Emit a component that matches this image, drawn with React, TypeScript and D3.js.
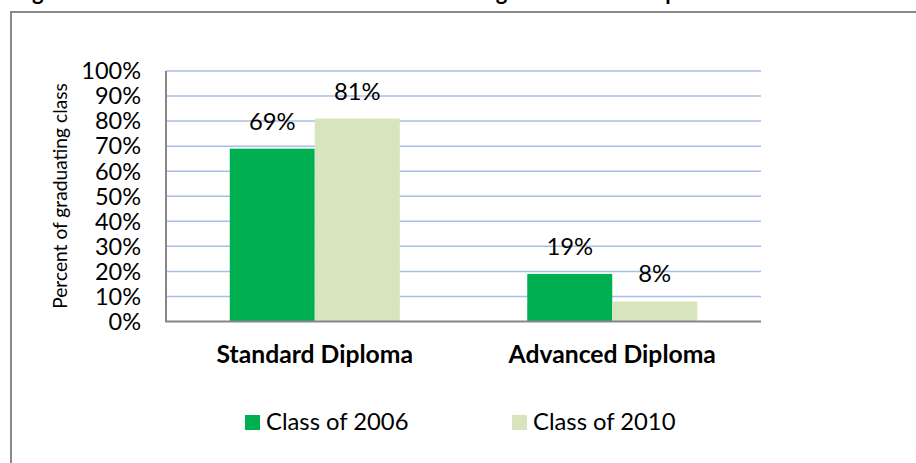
import React from "react";
import * as d3 from "d3";

const categories = ["Standard Diploma", "Advanced Diploma"];
const seriesNames = ["Class of 2006", "Class of 2010"];
const values2006 = [0.69, 0.19];
const values2010 = [0.81, 0.08];
const seriesColors = ["#00b050", "#d7e4bd"];
const tickValues = [0, 0.1, 0.2, 0.3, 0.4, 0.5, 0.6, 0.7, 0.8, 0.9, 1.0];
const titleText = "Figure 12. Class of 2006 and Class of 2010 Earning the Standard Diploma";
const yAxisTitle = "Percent of graduating class";

const W = 916;
const H = 463;
const FONT = "Lato, 'Open Sans', sans-serif";

export default function App() {
  const plot = { left: 166, right: 761, top: 71, bottom: 321.5 };
  const x = d3.scaleBand<string>().domain(categories).range([plot.left, plot.right]).paddingInner(0).paddingOuter(0);
  const xs = d3.scaleBand<string>().domain(seriesNames).range([0, x.bandwidth()]).paddingInner(0).paddingOuter(0.75);
  const y = d3.scaleLinear().domain([0, 1]).range([plot.bottom, plot.top]);
  const pct = d3.format(".0%");
  const seriesValues = [values2006, values2010];

  const legendX = [245, 512];

  return (
    <svg width={W} height={H} style={{ position: "absolute", left: 0, top: 0, background: "#fff" }} fontFamily={FONT}>
      <rect x={0} y={0} width={W} height={H} fill="#fff" />
      <text x={14} y={-0.5} fontSize={22} fontWeight="bold" fill="#000">{titleText}</text>
      <rect x={11} y={12} width={1000} height={1000} fill="none" stroke="#898989" strokeWidth={2} />

      {tickValues.filter((t) => t > 0).map((t) => (
        <line key={"g" + t} x1={plot.left} x2={plot.right} y1={y(t)} y2={y(t)} stroke="#a7bfe6" strokeWidth={1.5} />
      ))}

      {seriesValues.map((vals, si) =>
        categories.map((c, ci) => (
          <rect
            key={"b" + si + ci}
            x={(x(c) as number) + (xs(seriesNames[si]) as number)}
            y={y(vals[ci])}
            width={xs.bandwidth()}
            height={y(0) - y(vals[ci])}
            fill={seriesColors[si]}
          />
        ))
      )}

      <line x1={plot.left} x2={plot.left} y1={plot.top} y2={plot.bottom} stroke="#868686" strokeWidth={2} />
      <line x1={plot.left - 1} x2={plot.right} y1={plot.bottom} y2={plot.bottom} stroke="#868686" strokeWidth={2} />

      {tickValues.map((t) => (
        <text key={"t" + t} x={141} y={y(t) + 8.3} textAnchor="end" fontSize={23.5} fill="#000">{pct(t)}</text>
      ))}

      {seriesValues.map((vals, si) =>
        categories.map((c, ci) => (
          <text
            key={"l" + si + ci}
            x={(x(c) as number) + (xs(seriesNames[si]) as number) + xs.bandwidth() / 2}
            y={y(vals[ci]) - 19}
            textAnchor="middle"
            fontSize={23.8}
            fill="#000"
          >
            {pct(vals[ci])}
          </text>
        ))
      )}

      {categories.map((c) => (
        <text key={"c" + c} x={(x(c) as number) + x.bandwidth() / 2} y={363} textAnchor="middle" fontSize={24.7} fontWeight="bold" fill="#000">{c}</text>
      ))}

      <text transform={`translate(67,196) rotate(-90)`} textAnchor="middle" fontSize={19.2} fill="#000">{yAxisTitle}</text>

      {seriesNames.map((s, i) => (
        <g key={"lg" + s}>
          <rect x={legendX[i]} y={415} width={15} height={15} fill={seriesColors[i]} />
          <text x={legendX[i] + 21} y={430} fontSize={23.8} fill="#000">{s}</text>
        </g>
      ))}
    </svg>
  );
}
